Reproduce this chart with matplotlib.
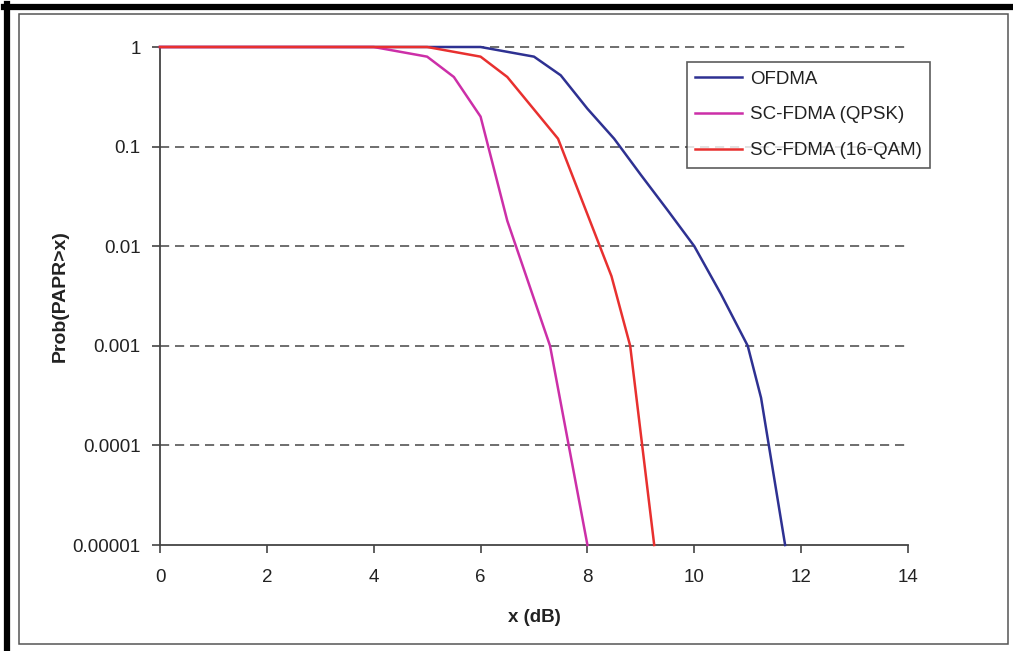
import matplotlib
matplotlib.use("Agg")
import matplotlib.pyplot as plt
from matplotlib.lines import Line2D
from matplotlib.patches import Rectangle

plt.rcParams['font.family'] = ['Liberation Sans', 'DejaVu Sans']

# data (x in dB, CCDF of PAPR)
x_ofdma = [0, 1, 2, 3, 4, 5, 6, 7, 7.5, 8, 8.5, 9, 9.5, 10, 10.5, 11, 11.25, 11.7]
p_ofdma = [1, 1, 1, 1, 1, 1, 1, 0.8, 0.52, 0.24, 0.12, 0.052, 0.023, 0.01,
           0.0033, 0.001, 0.0003, 0.00001]

x_qpsk = [0, 1, 2, 3, 4, 5, 5.5, 6, 6.5, 7.3, 8.0]
p_qpsk = [1, 1, 1, 1, 1, 0.8, 0.5, 0.2, 0.018, 0.001, 0.00001]

x_16qam = [0, 1, 2, 3, 4, 5, 6, 6.5, 7.45, 8.45, 8.8, 9.25]
p_16qam = [1, 1, 1, 1, 1, 1, 0.8, 0.5, 0.12, 0.005, 0.001, 0.00001]

series_labels = ["OFDMA", "SC-FDMA (QPSK)", "SC-FDMA (16-QAM)"]
colors = ["#2E3192", "#CC2FA8", "#E8302F"]

y_ticks = [1, 0.1, 0.01, 0.001, 0.0001, 0.00001]
y_ticklabels = ["1", "0.1", "0.01", "0.001", "0.0001", "0.00001"]
x_ticks = [0, 2, 4, 6, 8, 10, 12, 14]

FS = 13.5
W, H = 1013, 651
fig = plt.figure(figsize=(W / 100, H / 100), dpi=100)
ax = fig.add_axes([160 / W, 1 - 545 / H, (908 - 160) / W, (545 - 47) / H])

ax.set_yscale("log")
ax.set_xlim(0, 14)
ax.set_ylim(1e-5, 1)

# dashed horizontal grid
for yv in y_ticks[:-1]:
    ax.axhline(yv, color="#555555", lw=1.2, linestyle=(0, (5.5, 3.5)), zorder=1,
               clip_on=False)

for xs, ps, c in zip([x_ofdma, x_qpsk, x_16qam], [p_ofdma, p_qpsk, p_16qam], colors):
    ax.plot(xs, ps, color=c, lw=1.8, zorder=3, clip_on=False)

ax.set_yticks(y_ticks)
ax.set_yticklabels(y_ticklabels)
ax.minorticks_off()
ax.set_xticks(x_ticks)

for s in ["top", "right"]:
    ax.spines[s].set_visible(False)
for s in ["left", "bottom"]:
    ax.spines[s].set_color("#444444")
    ax.spines[s].set_linewidth(1.3)

ax.tick_params(axis="y", length=6, width=1.2, color="#444444", pad=8,
               labelsize=FS, labelcolor="#222222")
ax.tick_params(axis="x", length=6, width=1.2, color="#444444", pad=11,
               labelsize=FS, labelcolor="#222222")

ax.set_xlabel("x (dB)", fontsize=FS, fontweight="bold", labelpad=17,
              color="#222222")
ax.set_ylabel("Prob(PAPR>x)", fontsize=FS + 0.5, fontweight="bold", labelpad=3,
              color="#222222")

handles = [Line2D([], [], color=c, lw=1.8) for c in colors]
leg = ax.legend(handles, series_labels, loc="upper left",
                bbox_to_anchor=((687 - 160) / 748, 1 - (62 - 47) / 498),
                fontsize=FS, frameon=True, fancybox=False, handlelength=2.5,
                handletextpad=0.4, labelspacing=1.0, borderpad=0.45,
                borderaxespad=0)
leg.get_frame().set_edgecolor("#333333")
leg.get_frame().set_linewidth(1.2)
for t in leg.get_texts():
    t.set_color("#222222")

# picture frame: thick black outer edge (left/top), thin grey inner box
fig.add_artist(Rectangle((19 / W, 1 - 644 / H), (1008 - 19) / W, (644 - 14) / H,
                         transform=fig.transFigure, fill=False,
                         edgecolor="#555555", lw=1.1))
fig.add_artist(Line2D([7 / W, 7 / W], [0, 1 - 4 / H], transform=fig.transFigure,
                      color="black", lw=4.5))
fig.add_artist(Line2D([4 / W, 1], [1 - 7 / H, 1 - 7 / H], transform=fig.transFigure,
                      color="black", lw=4.5))

fig.savefig("out.png", dpi=100)
